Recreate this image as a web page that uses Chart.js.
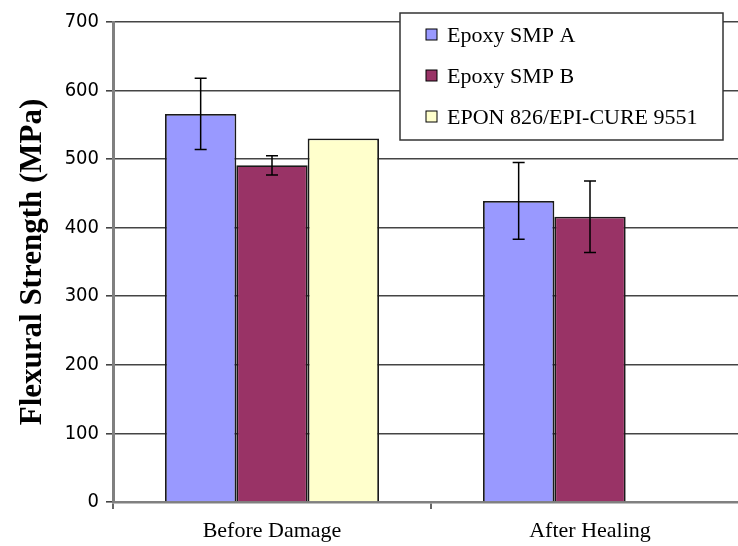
<!DOCTYPE html>
<html>
<head>
<meta charset="utf-8">
<script src="https://cdn.jsdelivr.net/npm/chart.js@4/dist/chart.umd.min.js"></script>
<style>
  html, body { margin: 0; padding: 0; background: #fff; overflow: hidden; }
  #wrap { width: 750px; height: 546px; }
</style>
</head>
<body>
<div id="wrap"><canvas id="c"></canvas></div>
<script>
const categories = ["Before Damage", "After Healing"];
const seriesNames = ["Epoxy SMP A", "Epoxy SMP B", "EPON 826/EPI-CURE 9551"];
const epoxyA = [566, 439];
const epoxyB = [491, 416];
const epon = [530, null];
const errA = [52, 56];
const errB = [14, 52];
const errEpon = [null, null];
const yTicks = [0, 100, 200, 300, 400, 500, 600, 700];

const colors = ["#9999FF", "#993366", "#FFFFCC"];
const serif = "'Liberation Serif', 'Times New Roman', serif";

const errorBars = {
  id: 'errorBars',
  afterDatasetsDraw(chart) {
    const ctx = chart.ctx;
    const yScale = chart.scales.y;
    ctx.save();
    ctx.strokeStyle = '#000';
    ctx.lineWidth = 1.5;
    chart.data.datasets.forEach((ds, i) => {
      const meta = chart.getDatasetMeta(i);
      meta.data.forEach((el, j) => {
        const v = ds.data[j], e = ds.errors[j];
        if (v == null || e == null) return;
        const top = yScale.getPixelForValue(v + e);
        const bot = yScale.getPixelForValue(v - e);
        const x = el.x;
        ctx.beginPath();
        ctx.moveTo(x, top); ctx.lineTo(x, bot);
        ctx.moveTo(x - 6, top); ctx.lineTo(x + 6, top);
        ctx.moveTo(x - 6, bot); ctx.lineTo(x + 6, bot);
        ctx.stroke();
      });
    });
    ctx.restore();
  }
};

const boxLegend = {
  id: 'boxLegend',
  afterDraw(chart) {
    const ctx = chart.ctx;
    const a = chart.chartArea;
    const left = a.left + 287, top = a.top - 9, w = 323, h = 127;
    ctx.save();
    ctx.fillStyle = '#fff';
    ctx.fillRect(left, top, w, h);
    ctx.strokeStyle = '#333';
    ctx.lineWidth = 1.5;
    ctx.strokeRect(left, top, w, h);
    ctx.font = "22px " + serif;
    ctx.textBaseline = 'middle';
    chart.data.datasets.forEach((ds, i) => {
      const cy = top + 22 + i * 41;
      ctx.fillStyle = ds.backgroundColor;
      ctx.fillRect(left + 26, cy - 6, 11, 11);
      ctx.strokeStyle = '#000';
      ctx.lineWidth = 1;
      ctx.strokeRect(left + 26, cy - 6, 11, 11);
      ctx.fillStyle = '#000';
      ctx.fillText(ds.label, left + 47, cy + 1);
    });
    ctx.restore();
  }
};

const values = [epoxyA, epoxyB, epon];
const errs = [errA, errB, errEpon];

new Chart(document.getElementById('c'), {
  type: 'bar',
  data: {
    labels: categories,
    datasets: seriesNames.map((n, i) => ({
      label: n,
      data: values[i],
      errors: errs[i],
      backgroundColor: colors[i],
      borderColor: '#1a1a1a',
      borderWidth: 1.8,
      categoryPercentage: 0.673,
      barPercentage: 1.0
    }))
  },
  options: {
    responsive: true,
    maintainAspectRatio: false,
    animation: false,
    layout: { padding: { top: 22, right: 1, left: 0, bottom: 0 } },
    plugins: { legend: { display: false }, tooltip: { enabled: false } },
    scales: {
      x: {
        afterFit(s) { s.height = 44; },
        grid: { offset: true, drawOnChartArea: false, drawTicks: true, tickLength: 7, color: '#666', lineWidth: 2 },
        border: { color: '#808080', width: 2.5 },
        ticks: { color: '#000', font: { family: serif, size: 22 }, padding: 9 }
      },
      y: {
        min: 0, max: 700,
        afterFit(s) { s.width = 113; },
        afterBuildTicks(s) { s.ticks = yTicks.map(v => ({ value: v })); },
        grid: { color: '#444', lineWidth: 1.6, tickLength: 7, drawTicks: true },
        border: { color: '#808080', width: 3 },
        ticks: { color: '#000', font: { family: "'DejaVu Sans Condensed', 'DejaVu Sans', sans-serif", size: 20 }, padding: 7 },
        title: { display: true, text: 'Flexural Strength (MPa)', color: '#000', font: { family: serif, size: 31, weight: 'bold' }, padding: { top: 14, bottom: 0 } }
      }
    }
  },
  plugins: [errorBars, boxLegend]
});
</script>
</body>
</html>
